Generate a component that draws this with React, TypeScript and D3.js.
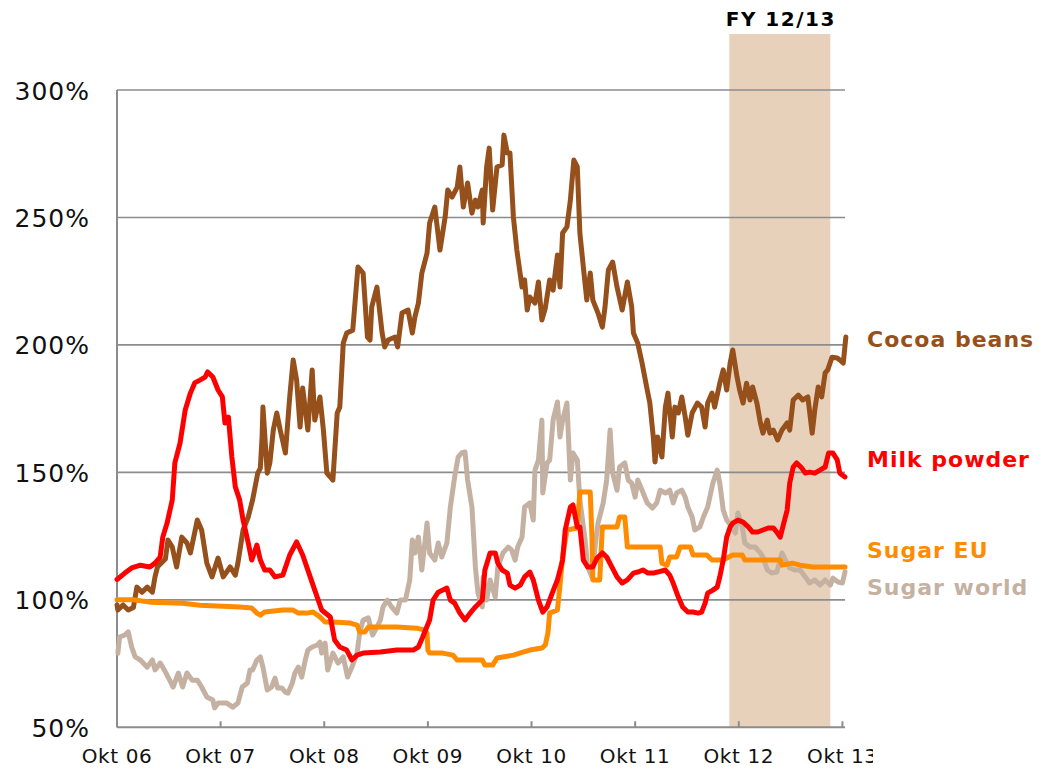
import React from "react";
import * as d3 from "d3";

// months since Oct 2006 ; value in % of Oct 2006 level
const cocoaBeans: [number, number][] = [
  [0, 98], [0.1, 96], [0.7, 98], [1.3, 96], [1.9, 97], [2.3, 105], [2.9, 103], [3.5, 105], [4.1, 103], [4.4, 109],
  [4.7, 113], [5.6, 116], [5.9, 123.5], [6.4, 120.7], [6.9, 112.9], [7.5, 124.6], [8.1, 122.3], [8.5, 118.4], [9.3, 131.3], [9.8, 127.4],
  [10.4, 114.4], [11.0, 109], [11.7, 116.4], [12.3, 109], [13.1, 112.9], [13.7, 109.7], [14.0, 114.4], [14.6, 127.4], [15.2, 132.5], [15.7, 139.2],
  [16.3, 149.7], [16.6, 151.7], [16.8, 163.9], [16.9, 175.6], [17.4, 149.7], [17.7, 153.7], [18.1, 166.6], [18.5, 173.3], [18.9, 166.6], [19.5, 157.6],
  [20.0, 179.6], [20.4, 194.1], [20.8, 186.2], [21.2, 167.8], [21.5, 183.1], [22.1, 166.6], [22.6, 190.2], [22.9, 170.5], [23.5, 179.6], [23.9, 166.6],
  [24.3, 149.7], [24.7, 148.2], [25.0, 147], [25.5, 173.3], [25.8, 175.6], [26.2, 200.7], [26.6, 204.7], [27.3, 205.8], [27.9, 230.6], [28.5, 228.2],
  [29.0, 203.1], [29.3, 201.9], [29.5, 214.9], [30.1, 222.7], [30.7, 204.7], [31.0, 199.2], [31.4, 201.9], [32.2, 203.1], [32.5, 199.2], [33.0, 212.5],
  [33.7, 213.7], [34.2, 204.7], [34.5, 211], [34.9, 216.4], [35.3, 228.2], [35.9, 236], [36.2, 247.8], [36.8, 254.1], [37.4, 237.2], [38.0, 250.2],
  [38.3, 260.8], [38.8, 258], [39.4, 261.9], [39.7, 269.8], [40.1, 254.1], [40.6, 263.5], [41.1, 251.7], [41.5, 256.8], [41.8, 254.1], [42.3, 260.8],
  [42.4, 247.8], [42.8, 269.8], [43.1, 277.2], [43.5, 252.9], [44.0, 269.8], [44.6, 270.6], [44.8, 282.3], [45.2, 275.3], [45.5, 275.3], [45.9, 250.2],
  [46.3, 237.2], [46.9, 222.7], [47.2, 225.5], [47.5, 213.7], [47.8, 218.8], [48.4, 216.4], [48.8, 224.7], [49.2, 209.8], [49.6, 214.5], [50.1, 225.5],
  [50.5, 221.5], [51.0, 235.3], [51.3, 222.7], [51.6, 243.9], [52.1, 246.3], [52.5, 256.8], [52.9, 272.5], [53.3, 269.8], [53.6, 243.9], [54.0, 230.6],
  [54.4, 217.6], [54.8, 228.2], [55.1, 217.6], [55.7, 212.5], [56.2, 207], [56.5, 214.5], [56.9, 229.4], [57.4, 232.5], [57.9, 222.7], [58.5, 213.7],
  [59.1, 224.7], [59.6, 214.9], [59.8, 204.7], [60.3, 200.7], [60.8, 192.9], [61.4, 182.3], [61.7, 177.2], [62.1, 163.9], [62.3, 154.1], [62.6, 163.9],
  [63.1, 156], [63.5, 175.6], [63.8, 181.1], [64.3, 163.9], [64.6, 175.6], [65.0, 173.3], [65.4, 179.6], [65.8, 171.7], [66.1, 164.6], [66.6, 173.3],
  [67.2, 177.2], [67.7, 175.6], [68.1, 167.8], [68.4, 177.2], [68.9, 181.1], [69.2, 175.6], [69.8, 185], [70.2, 190.2], [70.6, 182.3], [71.0, 192.9],
  [71.3, 198], [71.8, 187.4], [72.1, 182.3], [72.5, 177.2], [72.9, 185], [73.3, 178.4], [73.6, 183.5], [74.1, 177.2], [74.5, 169.4], [74.8, 165.4],
  [75.3, 170.5], [75.6, 165.4], [76.0, 166.6], [76.5, 162.7], [77.0, 166.6], [77.6, 169.4], [77.9, 166.6], [78.3, 178.4], [78.9, 180.3], [79.4, 178.4],
  [80.0, 179.6], [80.5, 165.4], [80.8, 174.5], [81.2, 183.5], [81.6, 179.6], [82.0, 189], [82.3, 190.2], [82.8, 195.2], [83.4, 194.9], [83.7, 194.1],
  [84.1, 192.9], [84.4, 203.1],
];

const milkPowder: [number, number][] = [
  [0, 108], [0.9, 110.5], [1.7, 112.5], [2.7, 113.6], [3.8, 112.9], [4.4, 114.4], [5.0, 116.8], [5.3, 124.6], [5.8, 130.1], [6.4, 139.2],
  [6.7, 153.7], [7.3, 161.5], [7.9, 174.5], [8.5, 181.1], [9.0, 185.1], [9.6, 186.2], [10.2, 187.4], [10.5, 189.4], [11.1, 187.4], [11.7, 182.3],
  [12.2, 179.6], [12.5, 169.4], [12.9, 171.7], [13.3, 156], [13.7, 144.3], [14.2, 139.2], [14.6, 131.3], [15.2, 122.3], [15.6, 115.6], [16.2, 121.5],
  [16.6, 115.6], [17.1, 111.7], [17.7, 111.7], [18.3, 109], [19.2, 109.7], [20.0, 117.6], [20.8, 122.7], [21.5, 117.6], [22.3, 109.7], [22.9, 103.8],
  [23.7, 96], [24.7, 93.3], [25.2, 84.2], [25.8, 81.5], [26.6, 80.3], [27.2, 76.4], [27.8, 78.3], [28.5, 79.1], [30.5, 79.5], [32.4, 80.3],
  [34.3, 80.3], [34.9, 81.5], [35.4, 85.4], [36.2, 92.1], [36.6, 99.9], [37.2, 103], [38.2, 104.6], [38.6, 99.9], [39.1, 98.7], [39.7, 94.8],
  [40.3, 92.1], [40.9, 94.8], [41.5, 97.2], [42.3, 99.9], [42.6, 111.7], [43.2, 118.4], [43.8, 118.4], [44.1, 114.4], [44.6, 111.7], [45.2, 110.5],
  [45.5, 105.8], [46.1, 104.6], [46.7, 105.8], [47.2, 109], [47.8, 110.9], [48.2, 107.8], [48.8, 99.9], [49.3, 95.2], [49.8, 97.2], [50.4, 102.6],
  [51.0, 107.8], [51.3, 111.7], [51.6, 115.6], [51.9, 127.4], [52.5, 136.4], [52.8, 137.2], [53.3, 128.6], [53.6, 128.6], [54.0, 115.6], [54.5, 112.9],
  [55.1, 112.9], [55.6, 116.4], [56.2, 118.4], [56.7, 116.8], [57.3, 112.9], [57.9, 109], [58.5, 106.6], [59.1, 107.8], [59.8, 110.5], [60.3, 110.9],
  [60.9, 111.7], [61.5, 110.5], [62.1, 110.5], [62.6, 110.9], [63.5, 111.7], [64.0, 109.7], [64.4, 106.6], [65.0, 101.1], [65.5, 97.2], [66.1, 95.2],
  [66.7, 95.2], [67.3, 94.8], [67.7, 95.2], [68.1, 98.7], [68.4, 102.6], [69.0, 103.8], [69.5, 105], [69.8, 109], [70.2, 115.6], [70.6, 124.6],
  [71.0, 128.6], [71.3, 130.1], [71.9, 131.3], [72.5, 130.5], [73.1, 128.6], [73.6, 126.6], [74.2, 126.6], [74.8, 127.4], [75.4, 128.2], [76.0, 128.2],
  [76.4, 126.6], [76.8, 124.6], [77.1, 128.6], [77.6, 135.2], [77.9, 145.8], [78.3, 152.1], [78.7, 153.7], [79.3, 151.7], [79.7, 149.7], [80.2, 150.1],
  [80.8, 149.7], [81.4, 150.9], [82.0, 152.1], [82.4, 157.6], [82.9, 157.6], [83.4, 154.9], [83.7, 149.7], [84.3, 148.2],
];

const sugarEU: [number, number][] = [
  [0, 100], [1.9, 100], [3.8, 99.1], [7.6, 98.7], [9.6, 97.9], [14.2, 97.2], [15.6, 96.8], [16.2, 94.8], [16.6, 94], [17.1, 95.2],
  [19.2, 96], [20.4, 96], [21.0, 94.8], [22.0, 94.8], [22.7, 95.2], [23.5, 93.3], [24.1, 91.3], [25.0, 91.3], [27.0, 90.9], [27.8, 90.1],
  [28.1, 87.4], [28.7, 87.4], [29.1, 89.3], [32.4, 89.3], [34.7, 88.9], [35.7, 88.1], [35.9, 87], [36.0, 80.3], [36.2, 79.1], [37.7, 79.1],
  [38.9, 78.3], [39.4, 76.4], [42.3, 76.4], [42.6, 74.4], [43.5, 74.4], [44.0, 77.2], [44.7, 77.6], [45.9, 78.3], [47.0, 79.5], [47.8, 80.3],
  [49.2, 81.1], [49.6, 82.3], [49.9, 87], [50.1, 94.8], [51.0, 96], [51.3, 105.8], [51.6, 116.8], [52.1, 127.4], [53.3, 128.2], [53.6, 142.3],
  [54.8, 142.3], [55.0, 124.6], [55.1, 107.8], [55.9, 107.8], [56.2, 128.6], [57.9, 128.6], [58.2, 132.5], [58.8, 132.5], [59.1, 120.7], [62.9, 120.7],
  [63.1, 114.4], [63.7, 113.6], [64.0, 116.8], [64.8, 116.8], [65.2, 120.7], [66.4, 120.7], [66.7, 117.6], [68.3, 117.6], [68.9, 115.6], [70.2, 115.6],
  [71.3, 117.6], [72.4, 117.6], [72.7, 115.6], [76.8, 115.6], [77.0, 113.6], [78.2, 114.4], [79.1, 113.6], [80.6, 112.9], [84.3, 112.9],
];

const sugarWorld: [number, number][] = [
  [0.1, 79.1], [0.3, 85.4], [0.9, 86.2], [1.3, 87.4], [1.7, 81.5], [2.1, 77.6], [2.7, 76.4], [3.5, 73.6], [4.1, 76.4], [4.4, 72.5],
  [5.0, 75.2], [5.3, 73.6], [6.1, 68.5], [6.5, 65.8], [7.1, 71.3], [7.6, 65.8], [8.1, 71.3], [8.7, 68.5], [9.3, 68.5], [9.8, 65.8],
  [10.4, 61.9], [11.1, 60.7], [11.3, 57.6], [11.7, 59.5], [12.7, 59.5], [13.4, 57.9], [14.0, 59.5], [14.5, 65.8], [15.1, 67.4], [15.4, 72.5],
  [15.7, 72.5], [16.2, 76.4], [16.6, 77.6], [16.9, 73.6], [17.4, 64.6], [17.9, 65.8], [18.3, 69.3], [18.6, 65.4], [19.1, 65.4], [19.5, 63.8],
  [19.8, 63.4], [20.3, 67.4], [20.6, 71.3], [21.0, 73.6], [21.4, 69.7], [21.8, 76.4], [22.1, 80.3], [22.6, 81.5], [23.2, 82.3], [23.5, 83.4],
  [23.7, 79.1], [24.1, 83], [24.4, 72.5], [25.0, 79.1], [25.6, 75.2], [26.2, 77.6], [26.7, 69.7], [27.2, 73.6], [27.8, 79.1], [28.1, 87],
  [28.5, 92.1], [29.1, 92.9], [29.6, 86.2], [30.1, 89.3], [30.5, 92.1], [30.8, 97.2], [31.3, 99.9], [31.8, 97.2], [32.4, 94.8], [32.8, 99.9],
  [33.4, 99.9], [33.9, 107.8], [34.2, 123.5], [34.5, 118.4], [34.9, 124.6], [35.3, 111.7], [35.9, 130.1], [36.2, 118.4], [36.8, 115.6], [37.2, 122.3],
  [37.6, 116.8], [38.2, 122.3], [38.6, 136.4], [39.1, 148.2], [39.5, 156], [39.9, 157.6], [40.3, 158], [40.6, 147], [41.1, 136.4], [41.5, 112.9],
  [41.8, 102.6], [42.3, 97.2], [42.4, 109], [42.8, 99.9], [43.2, 107.8], [43.8, 101.1], [44.1, 112.9], [44.7, 118.4], [45.3, 120.7], [45.7, 119.5],
  [46.1, 115.6], [46.4, 120.7], [46.9, 124.6], [47.2, 136.4], [47.8, 138], [48.2, 131.3], [48.4, 150.9], [48.8, 154.8], [49.2, 170.5], [49.3, 141.9],
  [49.8, 153.7], [50.1, 154.8], [50.5, 170.5], [51.0, 177.6], [51.3, 163.9], [51.6, 170.5], [52.1, 177.2], [52.5, 147], [52.8, 157.6], [53.3, 154.8],
  [53.6, 139.2], [54.2, 123.5], [54.5, 112.9], [55.0, 109], [55.4, 122.3], [55.7, 130.1], [56.3, 138], [56.7, 147], [57.1, 166.6], [57.4, 149.7],
  [57.9, 143], [58.2, 152.1], [58.8, 153.7], [59.2, 147], [59.6, 145.8], [60.0, 140.3], [60.3, 147], [60.8, 143], [61.4, 138], [62.0, 136],
  [62.5, 138], [62.9, 143], [63.5, 141.9], [64.0, 143], [64.4, 138], [64.8, 141.9], [65.4, 143], [65.8, 140.3], [66.1, 136.4], [66.6, 132.5],
  [66.9, 127.4], [67.5, 128.6], [67.9, 132.5], [68.4, 136.4], [69.0, 145.8], [69.5, 150.9], [69.8, 145.8], [70.2, 135.2], [70.6, 131.3], [71.2, 128.6],
  [71.6, 126.2], [71.9, 134.1], [72.4, 128.6], [72.7, 122.3], [73.3, 120.7], [73.9, 120.7], [74.5, 118.4], [74.8, 116.8], [75.3, 111.7], [75.8, 110.5],
  [76.4, 110.9], [77.0, 118.4], [77.4, 115.6], [77.9, 112.5], [78.5, 111.7], [79.1, 111.7], [79.7, 109], [80.2, 106.6], [80.8, 107.8], [81.4, 105.8],
  [82.0, 107.8], [82.6, 105.8], [82.9, 108.5], [83.5, 107], [84.0, 106.6], [84.3, 111],
];

const yTicks = [50, 100, 150, 200, 250, 300];
const xTickMonths = [0, 12, 24, 36, 48, 60, 72, 84];
const xTickLabels = ["Okt 06", "Okt 07", "Okt 08", "Okt 09", "Okt 10", "Okt 11", "Okt 12", "Okt 13"];
const fyLabel = "FY 12/13";
const fyStart = 70.9;
const fyEnd = 82.6;

const seriesNames = ["Cocoa beans", "Milk powder", "Sugar EU", "Sugar world"];
const seriesColors = ["#96501C", "#FF0000", "#FF8C00", "#C4B1A2"];

export default function App() {
  const x = d3.scaleLinear().domain([0, 84.3]).range([117, 845]);
  const y = d3.scaleLinear().domain([50, 300]).range([727.3, 90]);
  const line = d3
    .line<[number, number]>()
    .x((d) => x(d[0]))
    .y((d) => y(d[1]));

  const font = "'DejaVu Sans', Verdana, sans-serif";
  const data = [cocoaBeans, milkPowder, sugarEU, sugarWorld];
  const drawOrder = [3, 0, 2, 1];
  const labelY = [347, 467, 558, 595];

  return (
    <svg
      width={1039}
      height={769}
      style={{ position: "absolute", left: 0, top: 0, background: "#fff" }}
      fontFamily={font}
    >
      <defs>
        <clipPath id="xlabclip">
          <rect x={0} y={730} width={873} height={39} />
        </clipPath>
      </defs>
      <rect x={x(fyStart)} y={34} width={x(fyEnd) - x(fyStart)} height={y(50) - 34} fill="#E8D1BB" />
      <text
        x={(x(fyStart) + x(fyEnd)) / 2 + 1}
        y={26}
        textAnchor="middle"
        fontSize={20}
        fontWeight="bold"
        letterSpacing={1.5}
        fill="#000"
      >
        {fyLabel}
      </text>
      {yTicks
        .filter((t) => t > 50)
        .map((t) => (
          <line key={t} x1={x(0)} x2={845} y1={y(t)} y2={y(t)} stroke="#8C8C8C" strokeWidth={1.6} />
        ))}
      {yTicks.map((t) => (
        <text key={"yl" + t} x={90} y={y(t) + 9.5} textAnchor="end" fontSize={25} letterSpacing={1} fill="#111">
          {t + "%"}
        </text>
      ))}
      <line x1={x(0)} x2={x(0)} y1={y(300)} y2={y(50)} stroke="#8C8C8C" strokeWidth={2} />
      <line x1={x(0)} x2={845} y1={y(50)} y2={y(50)} stroke="#8C8C8C" strokeWidth={2} />
      {xTickMonths.map((m) => (
        <line key={"xt" + m} x1={x(m)} x2={x(m)} y1={y(50)} y2={y(50) - 6} stroke="#8C8C8C" strokeWidth={2} />
      ))}
      <g clipPath="url(#xlabclip)">
        {xTickMonths.map((m, i) => (
          <text key={"xl" + m} x={x(m)} y={763} textAnchor="middle" fontSize={20} letterSpacing={0.6} fill="#111">
            {xTickLabels[i]}
          </text>
        ))}
      </g>
      {drawOrder.map((i) => (
        <path
          key={seriesNames[i]}
          d={line(data[i]) || ""}
          fill="none"
          stroke={seriesColors[i]}
          strokeWidth={5}
          strokeLinejoin="round"
          strokeLinecap="round"
        />
      ))}
      {seriesNames.map((n, i) => (
        <text key={"lg" + n} x={867} y={labelY[i]} fontSize={22} fontWeight="bold" letterSpacing={1} fill={seriesColors[i]}>
          {n}
        </text>
      ))}
    </svg>
  );
}
